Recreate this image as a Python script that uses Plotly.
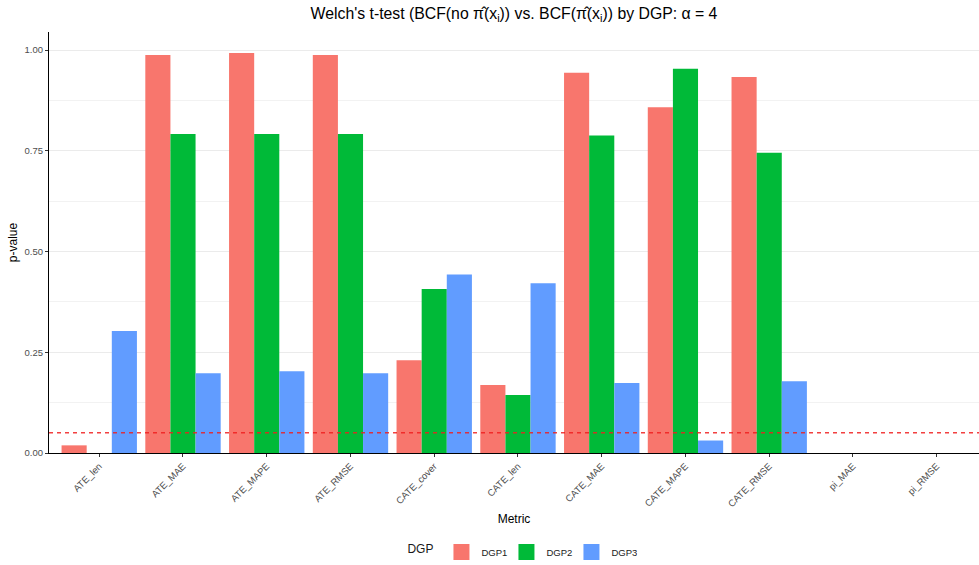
import plotly.graph_objects as go

# Metrics on the x axis
metrics = ["ATE_len", "ATE_MAE", "ATE_MAPE", "ATE_RMSE", "CATE_cover", "CATE_len",
           "CATE_MAE", "CATE_MAPE", "CATE_RMSE", "pi_MAE", "pi_RMSE"]

# Welch's t-test p-values per DGP (None = not available)
dgp1 = [0.019, 0.988, 0.993, 0.988, 0.230, 0.169, 0.944, 0.858, 0.933, None, None]
dgp2 = [None, 0.792, 0.792, 0.792, 0.407, 0.144, 0.788, 0.954, 0.745, None, None]
dgp3 = [0.303, 0.198, 0.203, 0.198, 0.443, 0.4215, 0.174, 0.031, 0.178, None, None]

series = {"DGP1": dgp1, "DGP2": dgp2, "DGP3": dgp3}
colors = {"DGP1": "#F8766D", "DGP2": "#00BA38", "DGP3": "#619CFF"}

alpha_level = 0.05
y_ticks = [0.0, 0.25, 0.5, 0.75, 1.0]
y_minor = [0.125, 0.375, 0.625, 0.875]

FONT = "Liberation Sans, Arial, Helvetica, sans-serif"

fig = go.Figure()
for name, vals in series.items():
    fig.add_trace(go.Bar(
        x=metrics, y=vals, name=name, legendgroup=name, showlegend=False,
        marker=dict(color=colors[name], line=dict(width=0)),
    ))
    # square legend key
    fig.add_trace(go.Scatter(
        x=[None], y=[None], mode="markers", name=name, legendgroup=name,
        marker=dict(symbol="square", size=17, color=colors[name]),
        hoverinfo="skip",
    ))

fig.add_hline(y=alpha_level, line=dict(color="rgba(240,30,30,0.85)", width=1.5, dash="4px,4px"))

fig.update_layout(
    width=979, height=565,
    margin=dict(l=49, r=0, t=32, b=112),
    plot_bgcolor="white", paper_bgcolor="white",
    font=dict(family=FONT, color="black"),
    barmode="group", bargap=0.1, bargroupgap=0,
    title=dict(
        text="Welch's t-test (BCF(no π̂(x<sub>i</sub>)) vs. BCF(π̂(x<sub>i</sub>)) by DGP: α = 4",
        x=0.5, xref="paper", xanchor="center",
        y=1 - 13 / 565, yref="container", yanchor="middle",
        font=dict(size=15.8, color="black"),
    ),
    legend=dict(
        orientation="h", x=0.508, xanchor="center", xref="paper",
        y=1 - 552 / 565, yref="container", yanchor="middle",
        title=dict(text="DGP", font=dict(size=12), side="left"),
        font=dict(size=9.5, color="#1a1a1a"),
        itemwidth=30, entrywidth=20, entrywidthmode="pixels",
    ),
)

fig.update_xaxes(
    type="category", categoryorder="array", categoryarray=metrics,
    range=[-0.6, 10.505],
    showline=True, linecolor="black", linewidth=1.2,
    ticks="outside", ticklen=3, tickcolor="#333333", tickwidth=1,
    tickangle=-45, tickfont=dict(size=9.5, color="#4d4d4d"),
    showgrid=False, zeroline=False,
    title=dict(text="Metric", font=dict(size=12), standoff=6),
)

fig.update_yaxes(
    range=[0, 1.045],
    tickvals=y_ticks, ticktext=[f"{v:.2f}" for v in y_ticks],
    tickfont=dict(size=9.5, color="#4d4d4d"),
    showline=True, linecolor="black", linewidth=1.2,
    ticks="outside", ticklen=3, tickcolor="#333333", tickwidth=1,
    showgrid=True, gridcolor="#ebebeb", gridwidth=1,
    minor=dict(tickvals=y_minor, showgrid=True, gridcolor="#f2f2f2", gridwidth=1, ticks=""),
    zeroline=False,
    title=dict(text="p-value", font=dict(size=12), standoff=4),
)

fig.write_html("out.html")
